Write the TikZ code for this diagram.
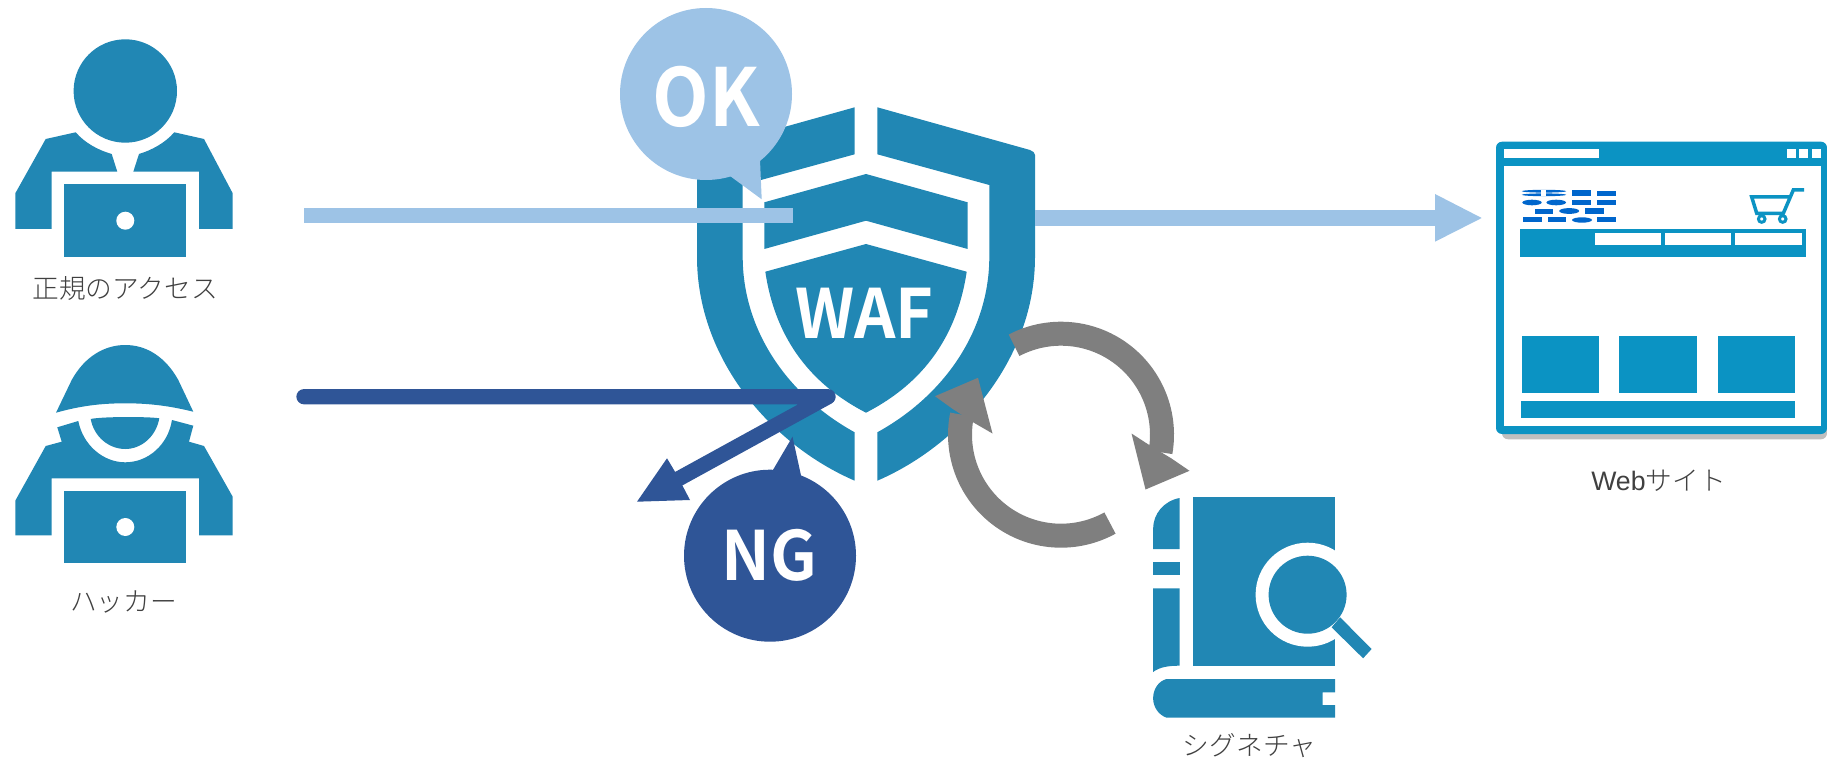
\documentclass[tikz,border=0pt]{standalone}
\usepackage{fontspec}
\setmainfont{Liberation Sans}
\newfontfamily\jp{Noto Sans CJK JP Light}
\newfontfamily\jpb{Noto Sans CJK JP Bold}
\definecolor{teal1}{HTML}{2187B4}
\definecolor{web}{HTML}{0B93C3}
\definecolor{lblue}{HTML}{9DC3E6}
\definecolor{dblue}{HTML}{2F5597}
\definecolor{gry}{HTML}{7F7F7F}
\definecolor{ibm}{HTML}{0066CC}
\definecolor{txt}{HTML}{404040}
\tikzset{
  tealfill/.style={fill=teal1,draw=none},
  webfill/.style={fill=web,draw=none},
  whitefill/.style={fill=white,draw=none},
  ibmbar/.style={fill=ibm,draw=none},
  label/.style={font=\jp\fontsize{26.7}{28}\selectfont,text=txt,inner sep=0pt},
  bigtxt/.style={font=\jpb\fontsize{#1}{#1}\selectfont,text=white,inner sep=0pt},
  ringarc/.style={draw=gry,line width=24pt,line cap=butt},
}
\begin{document}
\begin{tikzpicture}[x=1pt,y=-1pt]
\useasboundingbox (0,0) rectangle (1827,759);
% person
\fill[tealfill] (125.3,91) circle (51.7);
\fill[tealfill] (15.3,229) -- (15.3,193.3) -- (45.7,139) -- (75.7,132.3) .. controls (85,143) and (98,150) .. (111.7,154) -- (117.3,171.7) -- (51.7,171.7) -- (51.7,229) -- cycle;
\fill[tealfill] (232.7,229) -- (232.7,193.3) -- (204,139) -- (174.3,132.3) .. controls (165,143) and (152,150) .. (139,154) -- (133.3,171.7) -- (199,171.7) -- (199,229) -- cycle;
\fill[tealfill] (64,184.3) rectangle (186,256.7);
\fill[whitefill] (125.3,220.7) circle (9);
\node[label] (lblok) at (125.3,288) {正規のアクセス};
% hacker
\fill[tealfill] (56,412.7) -- (71.7,380) .. controls (85,356) and (105,345) .. (125.3,345) .. controls (145.6,345) and (165,356) .. (178.3,380) -- (193.3,411.7) .. controls (170,406) and (150,403.3) .. (125.3,403.3) .. controls (100,403.3) and (80,406) .. (56,412.7) -- cycle;
\fill[tealfill] (57.3,427.3) -- (78.3,421) .. controls (83,445) and (103,462.3) .. (125.3,462.3) .. controls (148,462.3) and (168,445) .. (172,420) -- (193.3,425.7) -- (189,441.7) -- (204,446) -- (232.7,496.7) -- (232.7,535.3) -- (199,535.3) -- (199,478.3) -- (51.7,478.3) -- (51.7,535.3) -- (15.3,535.3) -- (15.3,500.7) -- (45.7,446) -- (61.7,441.7) -- cycle;
\fill[tealfill] (90.7,419) .. controls (102,416.5) and (148,416.5) .. (159.3,418.3) .. controls (156,437) and (141,449) .. (125.3,449) .. controls (109,449) and (94,437) .. (90.7,419) -- cycle;
\fill[tealfill] (64,490.7) rectangle (186,562.7);
\fill[whitefill] (125.3,527) circle (9);
\node[label] (lblng) at (123.5,601.5) {ハッカー};
% shield
\fill[tealfill] (877.3,107.3) -- (1030,150) .. controls (1033,151) and (1035,153) .. (1035,155) -- (1035,256.7) .. controls (1035,360) and (960,445) .. (877.3,480.7) -- (877.3,432.3) .. controls (945,395) and (989.3,330) .. (989.3,256.7) -- (989.3,185) -- (877.3,154.3) -- cycle;
\fill[tealfill] (854.7,107.3) -- (702,150) .. controls (699,151) and (697,153) .. (697,155) -- (697,256.7) .. controls (697,360) and (772,445) .. (854.7,480.7) -- (854.7,432.3) .. controls (787,395) and (742.7,330) .. (742.7,256.7) -- (742.7,185) -- (854.7,154.3) -- cycle;
\fill[tealfill] (866,174) -- (967.7,202.3) -- (967.7,249) -- (866,220.7) -- (764.3,249) -- (764.3,202.3) -- cycle;
\fill[tealfill] (866,244) -- (966.7,271.7) .. controls (955,350) and (910,390) .. (866,412.7) .. controls (822,390) and (777,350) .. (765.3,271.7) -- cycle;
\node[bigtxt=68,xscale=.95] (waf) at (864.3,313.3) {WAF};
% right arrow
\coordinate (outS) at (1035,218);
\coordinate (outE) at (1435,218);
\coordinate (outT) at (1481.7,218);
\draw[draw=lblue,line width=16pt] (outS) -- (outE);
\fill[lblue] (outT) -- (1435,241.7) -- (1435,194) -- cycle;
% light bar
\coordinate (okS) at (304.3,215.8);
\coordinate (okE) at (792.7,215.8);
\draw[draw=lblue,line width=15pt] (okS) -- (okE);
% OK bubble
\fill[lblue] (706,94) circle (86);
\fill[lblue] (745,150) -- (760,160) -- (761.7,199.3) -- (731,176.7) -- (715,170) -- cycle;
\node[bigtxt=80,xscale=.92] (ok) at (706,96.7) {OK};
% dark arrow
\coordinate (ngS) at (304,396.7);
\coordinate (ngM) at (828,396.7);
\coordinate (ngE) at (678.7,478.7);
\draw[draw=dblue,line width=15.3pt,line cap=round,line join=round] (ngS) -- (ngM) -- (ngE);
\fill[dblue] (637,501.7) -- (667,458.3) -- (675,471.7) -- (682.5,485.7) -- (690,500) -- cycle;
% NG bubble
\fill[dblue] (770,555.7) circle (86);
\fill[dblue] (770,475) -- (792.5,436.7) -- (802,480) -- cycle;
\node[bigtxt=68,xscale=.96] (ng) at (769,555) {NG};
% gray cycle
\draw[ringarc] plot[domain=117.7:-10,samples=60] ({1061+101*cos(\x)},{434.7-101*sin(\x)});
\fill[gry] (1149.5,445.2) -- (1131.5,433.5) -- (1145.5,489.5) -- (1189.5,470.8) -- (1171.5,458.5) -- cycle;
\draw[ringarc] plot[domain=-61:-191.4,samples=60] ({1061+101*cos(\x)},{434.7-101*sin(\x)});
\fill[gry] (952.5,408.8) -- (935,396.2) -- (978,377.8) -- (992.5,433.5) -- (974,422.8) -- cycle;
% book
\begin{scope}[shift={(-3.4,-1)}]
\fill[tealfill] (1183,499) .. controls (1167,502) and (1156.5,515) .. (1156.5,530) -- (1156.5,550) -- (1183,550) -- cycle;
\fill[tealfill] (1156.5,563.3) rectangle (1183,576);
\fill[tealfill] (1156.5,589.3) -- (1183,589.3) -- (1183,666.7) .. controls (1172,666.7) and (1163,668) .. (1156.5,673) -- cycle;
\fill[tealfill] (1196,498.3) rectangle (1338.5,666.7);
\fill[whitefill] (1311,595.7) circle (52);
\fill[white] (1339,550) rectangle (1375,625);
\draw[white,line width=12pt,line join=round,fill=white] (1343.5,618.3) -- (1375,650) -- (1366.5,659.3) -- (1335,628.3) -- cycle;
\fill[tealfill] (1311,595.7) circle (39);
\fill[tealfill] (1343.5,618.3) -- (1375,650) -- (1366.5,659.3) -- (1335,628.3) -- cycle;
\fill[tealfill] (1170,680) -- (1338.5,680) -- (1338.5,693.3) -- (1326,693.3) -- (1326,706) -- (1338.5,706) -- (1338.5,718.7) -- (1170,718.7) .. controls (1162,716) and (1156.5,708) .. (1156.5,699.3) .. controls (1156.5,690) and (1162,682) .. (1170,680) -- cycle;
\end{scope}
\node[label] (lblsig) at (1249.5,746) {シグネチャ};
% website
\fill[fill=black!25,rounded corners=6pt] (1502,200) rectangle (1827,439.3);
\fill[webfill,rounded corners=6pt] (1496,141.7) rectangle (1827,434);
\fill[whitefill] (1504,166) rectangle (1821,426);
\fill[whitefill] (1504,149) rectangle (1599,158);
\fill[whitefill] (1787,149) rectangle (1796,158);
\fill[whitefill] (1799,149) rectangle (1808,158);
\fill[whitefill] (1812,149) rectangle (1821,158);
\fill[webfill] (1520,229) rectangle (1806,257.3);
\fill[whitefill] (1594.7,233) rectangle (1660.7,245.3);
\fill[whitefill] (1665,233) rectangle (1731,245.3);
\fill[whitefill] (1735.3,233) rectangle (1802,245.3);
\fill[webfill] (1522,336) rectangle (1599,393);
\fill[webfill] (1619,336) rectangle (1697,393);
\fill[webfill] (1718,336) rectangle (1795,393);
\fill[webfill] (1521,401) rectangle (1795,418);
% logo
\fill[ibmbar] (1544,191.2) ellipse (22.2 and 1.4);
\fill[ibmbar] (1544,194.8) ellipse (22.2 and 1.4);
\fill[whitefill] (1541,190) rectangle (1546,196.5);
\fill[ibmbar] (1572.3,190.3) rectangle (1591,195.8);
\fill[ibmbar] (1596.7,191.3) rectangle (1615.7,195.8);
\fill[ibmbar] (1532,202.5) ellipse (9.7 and 2.8);
\fill[ibmbar] (1556.2,202.5) ellipse (9.8 and 2.8);
\fill[ibmbar] (1572.3,200) rectangle (1591,205);
\fill[ibmbar] (1596.7,200) rectangle (1615.7,205);
\fill[ibmbar] (1535,208.7) rectangle (1553.3,214);
\fill[ibmbar] (1569.2,211) ellipse (10 and 2.9);
\fill[ibmbar] (1585,207.8) rectangle (1604.3,214);
\fill[ibmbar] (1523.3,217.5) rectangle (1542.3,222.3);
\fill[ibmbar] (1547.7,217.5) rectangle (1566,222.3);
\fill[ibmbar] (1582,220) ellipse (10 and 2.7);
\fill[ibmbar] (1597,217.5) rectangle (1615.7,222.3);
% cart
\draw[draw=web,line width=3.5pt] (1804,190) -- (1793.3,190) -- (1783.3,213.3) -- (1756.7,213.3) -- (1751.7,197) -- (1790.5,197);
\draw[draw=web,line width=3pt] (1761.7,219) circle (3.3);
\draw[draw=web,line width=3pt] (1782.7,219) circle (3.3);
\node[font=\fontsize{26.7}{28}\selectfont,text=txt,inner sep=0pt] (lblweb) at (1658.5,480.5) {Web{\jp サイト}};
\end{tikzpicture}
\end{document}
